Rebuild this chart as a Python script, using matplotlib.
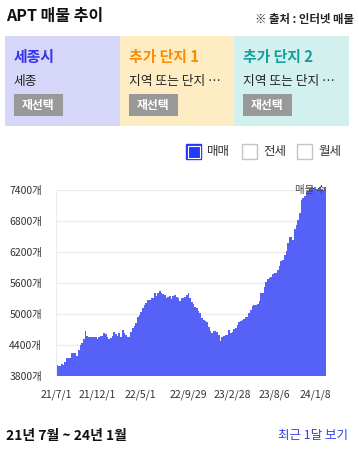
import matplotlib.pyplot as plt
from matplotlib.patches import Rectangle

plt.rcParams['font.family'] = ['Noto Sans CJK KR', 'DejaVu Sans']

# listing counts, oldest -> newest
listings = [
    4010, 4000, 4000, 4030, 4010, 4065, 4140, 4140, 4140, 4245, 4245, 4245, 4190,
    4300, 4400, 4445, 4515, 4670, 4575, 4555, 4555, 4555, 4555, 4555, 4510, 4555,
    4580, 4580, 4630, 4610, 4555, 4510, 4540, 4575, 4650, 4605, 4575,
    4630, 4560, 4690, 4630, 4600, 4560, 4550, 4660, 4725, 4770, 4830, 4950, 4980,
    5045, 5110, 5175, 5220, 5270, 5270, 5305, 5315, 5400, 5355, 5410, 5445, 5410,
    5385, 5365, 5315, 5335, 5345, 5295, 5345, 5365, 5335, 5315, 5250, 5305, 5315, 5335,
    5365, 5410, 5305, 5225, 5190, 5140, 5110, 5065, 5015, 4915, 4885, 4870, 4840,
    4745, 4670, 4640, 4670, 4670, 4655, 4595, 4485, 4560, 4575, 4590, 4595, 4690,
    4625, 4660, 4705, 4725, 4785, 4850, 4865, 4885, 4900, 4950, 4950, 5015, 5080,
    5155, 5165, 5165, 5190,
    5255, 5400, 5410, 5530, 5625, 5680, 5690, 5710, 5775, 5790, 5800, 5850, 5930,
    6025, 6045, 6140, 6225, 6380, 6485, 6485, 6430, 6640, 6720, 6820, 6950, 7205,
    7240, 7285, 7350, 7385, 7415, 7450, 7430, 7450, 7415, 7430, 7450, 7415, 7385, 7450,
]
date_labels = ['21/7/1', '21/12/1', '22/5/1', '22/9/29', '23/2/28', '23/8/6', '24/1/8']
label_frac = [0.0, 0.152, 0.311, 0.489, 0.652, 0.807, 0.959]
y_ticks = [3800, 4400, 5000, 5600, 6200, 6800, 7400]
y_base = 3800

panel_titles = ['세종시', '추가 단지 1', '추가 단지 2']
panel_subs = ['세종', '지역 또는 단지 …', '지역 또는 단지 …']
panel_bg = ['#d6d6f8', '#feedc3', '#d2f0ee']
panel_fg = ['#3333f0', '#ff8a00', '#14a09a']
legend_items = ['매매', '전세', '월세']

W, H = 359, 453
fig = plt.figure(figsize=(W / 100, H / 100), dpi=100)


def fx(x):
    return x / W


def fy(y):
    return 1 - y / H


def box(x0, y0, x1, y1, **kw):
    fig.patches.append(Rectangle((fx(x0), fy(y1)), (x1 - x0) / W, (y1 - y0) / H,
                                 transform=fig.transFigure, figure=fig, **kw))


# header
fig.text(fx(6), fy(16), 'APT 매물 추이', fontsize=11.5, fontweight='bold',
         color='#111111', va='center')
fig.text(fx(354), fy(20), '※ 출처 : 인터넷 매물', fontsize=8.2, fontweight='bold',
         color='#222222', va='center', ha='right')

# selection panels
px = [5, 120, 234, 349]
for i in range(3):
    box(px[i], 36, px[i + 1], 126, color=panel_bg[i], lw=0)
    fig.text(fx(px[i] + 9), fy(57), panel_titles[i], fontsize=10.7, fontweight='bold',
             color=panel_fg[i], va='center')
    fig.text(fx(px[i] + 9), fy(81), panel_subs[i], fontsize=9.2,
             color='#222222', va='center')
    box(px[i] + 9, 94, px[i] + 58, 116, color='#999999', lw=0)
    fig.text(fx(px[i] + 33.5), fy(105), '재선택', fontsize=8.5, fontweight='bold',
             color='white', va='center', ha='center')

# legend checkboxes
lx = [186, 242, 297]
for i, name in enumerate(legend_items):
    if i == 0:
        box(lx[i], 144, lx[i] + 15, 159, facecolor='#2238ff', edgecolor='#2238ff', lw=1)
        box(lx[i] + 1.5, 145.5, lx[i] + 13.5, 157.5, facecolor='none', edgecolor='white', lw=0.8)
    else:
        box(lx[i], 144, lx[i] + 15, 159, facecolor='white', edgecolor='#c4c4c8', lw=1)
    fig.text(fx(lx[i] + 21), fy(152), name, fontsize=9, color='#333333', va='center')

# chart
ax = fig.add_axes([fx(56), fy(376), 270 / W, 186 / H])
n = len(listings)
ax.bar(range(n), [v - y_base for v in listings], bottom=y_base, width=1.0,
       color='#5662f7', lw=0, clip_on=False, zorder=2)
ax.set_xlim(-0.5, n - 0.5)
ax.set_ylim(y_base, 7400)
ax.set_yticks(y_ticks)
ax.set_yticklabels([f'{v}개' for v in y_ticks])
ax.set_xticks([f * n - 0.5 for f in label_frac])
ax.set_xticklabels(date_labels)
ax.tick_params(axis='both', length=0, labelsize=7.5, colors='#333333')
ax.tick_params(axis='y', pad=10)
ax.tick_params(axis='x', pad=10)
ax.grid(axis='y', color='#ececec', lw=1, zorder=0)
for s in ['top', 'right', 'bottom']:
    ax.spines[s].set_visible(False)
ax.spines['left'].set_color('#ececec')
ax.text(1.0, 1.0, '매물 수', transform=ax.transAxes, ha='right', va='center',
        fontsize=7.5, color='#444444', zorder=3)

# footer
fig.text(fx(6), fy(436), '21년 7월 ~ 24년 1월', fontsize=10, fontweight='bold',
         color='#111111', va='center')
fig.text(fx(348), fy(436), '최근 1달 보기', fontsize=9, color='#2f3fe8',
         va='center', ha='right')

fig.savefig('out.png', dpi=100)
